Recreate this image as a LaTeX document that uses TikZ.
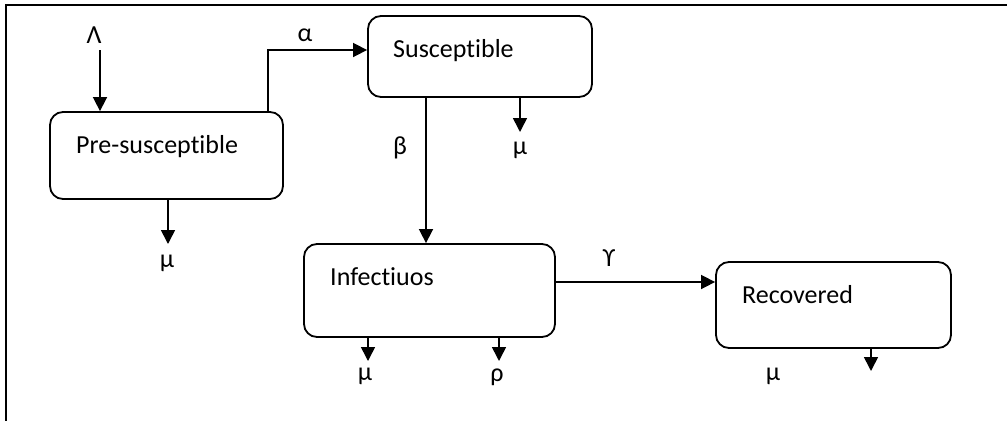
\documentclass[tikz,border=0pt]{standalone}
\usepackage{fontspec}
\setmainfont{Carlito}[Ligatures=NoCommon,RawFeature={-liga;-clig;-dlig}]
\usetikzlibrary{arrows.meta}
\begin{document}
\begin{tikzpicture}[x=1pt,y=-1pt,
  box/.style={draw,line width=1.8pt,rounded corners=13pt,inner sep=0pt},
  txt/.style={inner sep=0pt,anchor=base west,font=\fontsize{26}{30}\selectfont},
  lbl/.style={inner sep=0pt,font=\fontsize{26}{30}\selectfont},
  arr/.style={line width=1.6pt,-{Triangle[length=14pt,width=14pt]}},
  conn/.style={line width=1.6pt}]
\useasboundingbox (0,0) rectangle (1007,421);
\draw[line width=2pt] (1007,5) -- (6,5) -- (6,421);
% boxes
\node[box,minimum width=233pt,minimum height=87pt] (pre) at (166.5,155.5) {};
\node[box,minimum width=224pt,minimum height=81pt] (sus) at (480,56.5) {};
\node[box,minimum width=251pt,minimum height=93pt] (inf) at (429.5,290.5) {};
\node[box,minimum width=235pt,minimum height=86pt] (rec) at (833.5,305) {};
% box texts
\node[txt] (pretxt) at (76,153) {Pre-susceptible};
\node[txt] (sustxt) at (393,57) {Susceptible};
\node[txt] (inftxt) at (330,285) {Infectiuos};
\node[txt] (rectxt) at (742,303) {Recovered};
% labels
\node[lbl] (lam) at (94,35) {Λ};
\node[lbl] (alpha) at (305,35) {α};
\node[lbl] (beta) at (400,148) {β};
\node[lbl] (musus) at (520,150) {μ};
\node[lbl] (mupre) at (167,263) {μ};
\node[lbl] (muinf) at (365,376) {μ};
\node[lbl] (rho) at (497,377) {ρ};
\node[lbl] (gam) at (609,258) {ϒ};
\node[lbl] (murec) at (773,376) {μ};
% helper coordinates
\coordinate (lamtop) at (100,50);
\coordinate (aturn) at (268,50);
\coordinate (bx) at (426,0);
\coordinate (gy) at (0,282);
\coordinate (mususend) at (520,132);
\coordinate (mupreend) at (168,244);
\coordinate (muinfend) at (368,361);
\coordinate (rhoend) at (499,361);
\coordinate (murecend) at (871,371);
% connectors
\draw[arr] (lamtop) -- (lamtop |- pre.north);
\draw[arr] (pre.north -| aturn) -- (aturn) -- (sus.west |- aturn);
\draw[arr] (sus.south -| bx) -- (inf.north -| bx);
\draw[arr] (inf.east |- gy) -- (rec.west |- gy);
\draw[arr] (sus.south -| mususend) -- (mususend);
\draw[arr] (pre.south -| mupreend) -- (mupreend);
\draw[arr] (inf.south -| muinfend) -- (muinfend);
\draw[arr] (inf.south -| rhoend) -- (rhoend);
\draw[arr] (rec.south -| murecend) -- (murecend);
\end{tikzpicture}
\end{document}
